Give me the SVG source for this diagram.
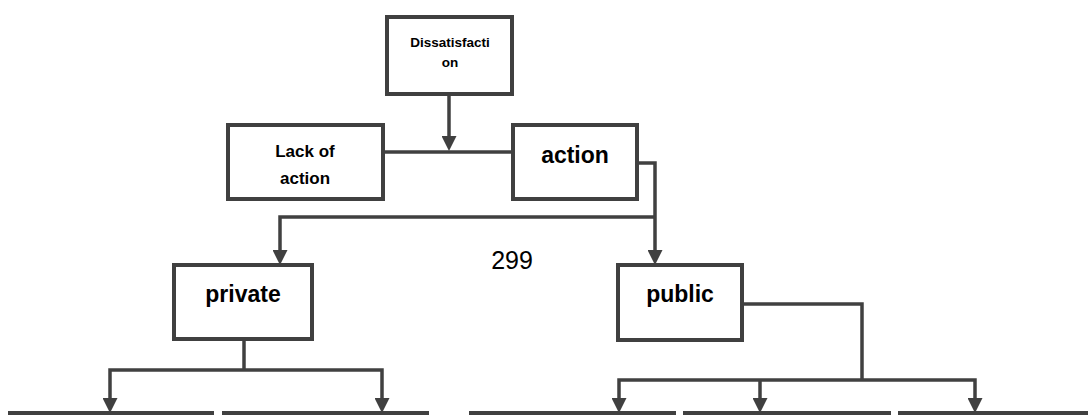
<svg xmlns="http://www.w3.org/2000/svg" width="1088" height="415" viewBox="0 0 1088 415">
<style>
.box{fill:#fff;stroke:#404040;stroke-width:4}
.con{fill:none;stroke:#404040;stroke-width:3.5}
.t{font-family:"Liberation Sans",Arial,sans-serif;font-weight:bold;fill:#000;text-anchor:middle}
.n{font-family:"Liberation Sans",Arial,sans-serif;fill:#000;text-anchor:middle}
</style>
<defs>
<marker id="ah" viewBox="0 0 15 15" markerWidth="15" markerHeight="15" refX="3" refY="7.5" markerUnits="userSpaceOnUse" orient="auto">
<path d="M0,0 L15,7.5 L0,15 z" fill="#404040"/>
</marker>
</defs>
<rect width="1088" height="415" fill="#fff"/>
<g id="connectors">
<path class="con" d="M449,94 V139" marker-end="url(#ah)"/>
<path class="con" d="M383,152 H513"/>
<path class="con" d="M637,163 H655 V253" marker-end="url(#ah)"/>
<path class="con" d="M655,217 H280 V253" marker-end="url(#ah)"/>
<path class="con" d="M244,339 V370"/>
<path class="con" d="M244,370 H110 V401" marker-end="url(#ah)"/>
<path class="con" d="M244,370 H382 V401" marker-end="url(#ah)"/>
<path class="con" d="M742,304 H862 V380"/>
<path class="con" d="M862,380 H619 V401" marker-end="url(#ah)"/>
<path class="con" d="M862,380 H975 V401" marker-end="url(#ah)"/>
<path class="con" d="M760,380 V401" marker-end="url(#ah)"/>
</g>
<g id="dissatisfaction">
<rect class="box" x="387" y="17" width="125" height="77"/>
<text class="t" x="450" y="47" font-size="13.5">Dissatisfacti</text>
<text class="t" x="450" y="67" font-size="13.5">on</text>
</g>
<g id="lack-of-action">
<rect class="box" x="228" y="125" width="155" height="74"/>
<text class="t" x="305" y="157" font-size="17">Lack of</text>
<text class="t" x="305" y="184" font-size="17">action</text>
</g>
<g id="action">
<rect class="box" x="513" y="125" width="124" height="74"/>
<text class="t" x="575" y="163" font-size="23">action</text>
</g>
<text class="n" x="512" y="269" font-size="25">299</text>
<g id="private">
<rect class="box" x="174" y="265" width="138" height="74"/>
<text class="t" x="243" y="302" font-size="23">private</text>
</g>
<g id="public">
<rect class="box" x="618" y="265" width="124" height="75"/>
<text class="t" x="680" y="302" font-size="23">public</text>
</g>
<g id="child-1"><rect class="box" x="10" y="413" width="202" height="60"/></g>
<g id="child-2"><rect class="box" x="224" y="413" width="203" height="60"/></g>
<g id="child-3"><rect class="box" x="471" y="413" width="203" height="60"/></g>
<g id="child-4"><rect class="box" x="685" y="413" width="204" height="60"/></g>
<g id="child-5"><rect class="box" x="900" y="413" width="200" height="60"/></g>
</svg>
